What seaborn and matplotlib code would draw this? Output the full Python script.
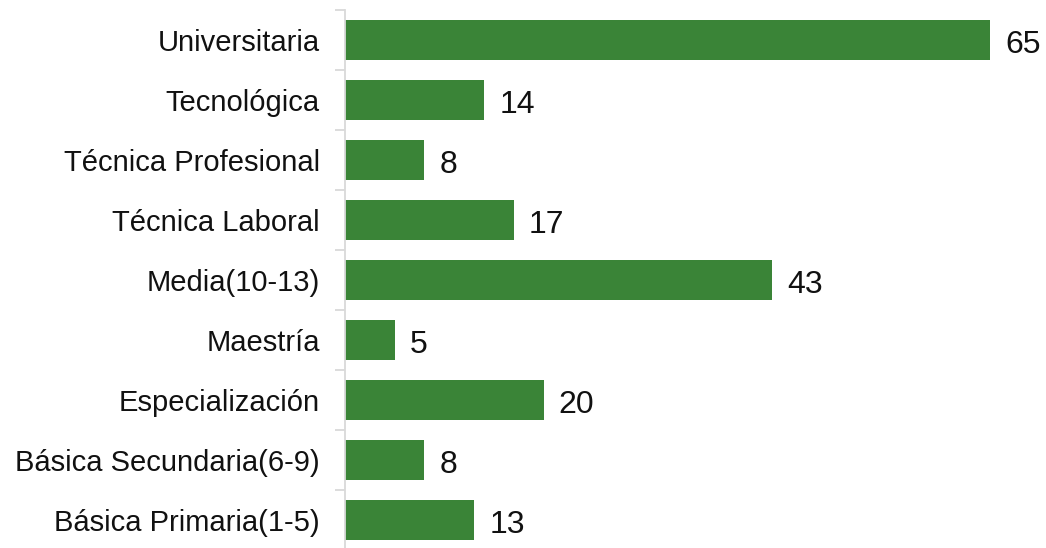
import matplotlib
matplotlib.use("Agg")
import matplotlib.pyplot as plt
import matplotlib.ticker as mticker
import seaborn as sns
import pandas as pd

categories = ["Universitaria", "Tecnológica", "Técnica Profesional", "Técnica Laboral",
              "Media(10-13)", "Maestría", "Especialización", "Básica Secundaria(6-9)",
              "Básica Primaria(1-5)"]
values = [65, 14, 8, 17, 43, 5, 20, 8, 13]

df = pd.DataFrame({"cat": categories, "val": values})

sns.set_style("white")
plt.rcParams["font.family"] = ["Liberation Sans", "DejaVu Sans"]

fig = plt.figure(figsize=(10.46, 5.48), dpi=100)
ax = fig.add_axes([345 / 1046, -2 / 548, (1040 - 345) / 1046, 540 / 548])

sns.barplot(data=df, x="val", y="cat", order=categories, color="#3A8437",
            saturation=1, width=0.667, ax=ax, edgecolor="none")

ax.set_xlim(0, 70)
ax.set_ylim(len(categories) - 0.5, -0.5)
ax.set_xlabel("")
ax.set_ylabel("")
ax.set_xticks([])

for s in ["top", "right", "bottom"]:
    ax.spines[s].set_visible(False)
ax.spines["left"].set_color("#D9D9D9")
ax.spines["left"].set_linewidth(1.3)

ax.tick_params(axis="y", which="major", length=0, pad=18, labelsize=21, labelcolor="#111111")
ax.yaxis.set_minor_locator(mticker.FixedLocator([i - 0.5 for i in range(len(categories) + 1)]))
ax.tick_params(axis="y", which="minor", length=7.5, width=1.3, color="#D9D9D9", left=True)

for bar, v in zip(ax.patches, values):
    ax.annotate(str(v), xy=(bar.get_width(), bar.get_y() + bar.get_height() / 2),
                xytext=(11, -3.5), textcoords="offset points",
                ha="left", va="center", fontsize=23, color="#111111")

fig.savefig("out.png", dpi=100)
